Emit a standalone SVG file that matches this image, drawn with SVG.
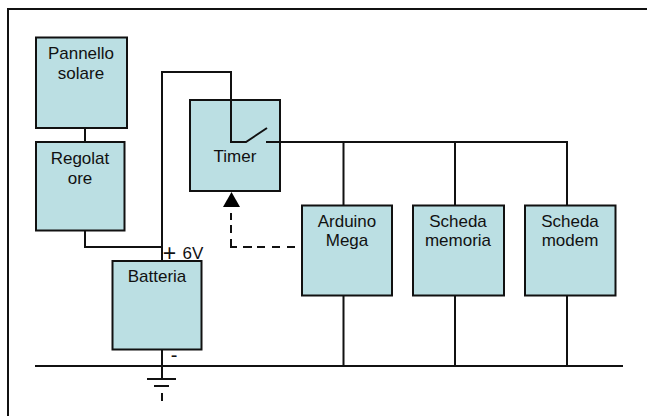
<svg xmlns="http://www.w3.org/2000/svg" width="647" height="416" viewBox="0 0 647 416">
<style>
.b{fill:#bbdfe3;stroke:#111;stroke-width:2}
.l{fill:none;stroke:#111;stroke-width:2}
text{font-family:"Liberation Sans",Arial,sans-serif;font-size:17px;fill:#111;text-anchor:middle}
</style>
<rect width="647" height="416" fill="#fff"/>
<path id="frame" class="l" d="M8 416V9H647"/>
<g id="connectors">
<path class="l" d="M85 128V142"/>
<path class="l" d="M85 230V247H162"/>
<path class="l" d="M162 261V72H231V100"/>
<path class="l" d="M280 142H567V205"/>
<path class="l" d="M343.500 142V205M455 142V205"/>
<path class="l" d="M162 350V379"/>
<path class="l" d="M35 366H623"/>
<path class="l" d="M343.500 295V366M455 295V366M567 295V366"/>
<path class="l" d="M147 379H176M154 386H169"/>
<path class="l" d="M162 393V401"/>
<path class="l" d="M231 213V220M231 225V233M231 239V247H237M243 247H252M257 247H265M272 247H280M287 247H295"/>
<path d="M231.500 192L223 207H240Z" fill="#000"/>
</g>
<g id="pannello"><rect class="b" x="36" y="37.500" width="91" height="90.500"/><text x="81" y="59">Pannello</text><text x="81" y="79">solare</text></g>
<g id="regolatore"><rect class="b" x="36" y="142" width="88.500" height="88.500"/><text x="80" y="164">Regolat</text><text x="80" y="184">ore</text></g>
<g id="timer"><rect class="b" x="190" y="100" width="90" height="91"/><path class="l" d="M231 100V142H246L267 128M266 142H281"/><text x="235" y="162">Timer</text></g>
<g id="batteria"><rect class="b" x="112.500" y="261" width="89" height="88.500"/><text x="157" y="282">Batteria</text></g>
<g id="arduino"><rect class="b" x="302" y="205.500" width="90" height="90"/><text x="347" y="227">Arduino</text><text x="347" y="246">Mega</text></g>
<g id="memoria"><rect class="b" x="413" y="205.500" width="91" height="90"/><text x="458" y="227">Scheda</text><text x="458" y="246">memoria</text></g>
<g id="modem"><rect class="b" x="525" y="205.500" width="90.500" height="90"/><text x="570" y="227">Scheda</text><text x="570" y="246">modem</text></g>
<text x="169.500" y="261" style="font-size:23px">+</text>
<text x="193" y="259">6V</text>
<text x="174" y="362" style="font-size:20px">-</text>
</svg>
